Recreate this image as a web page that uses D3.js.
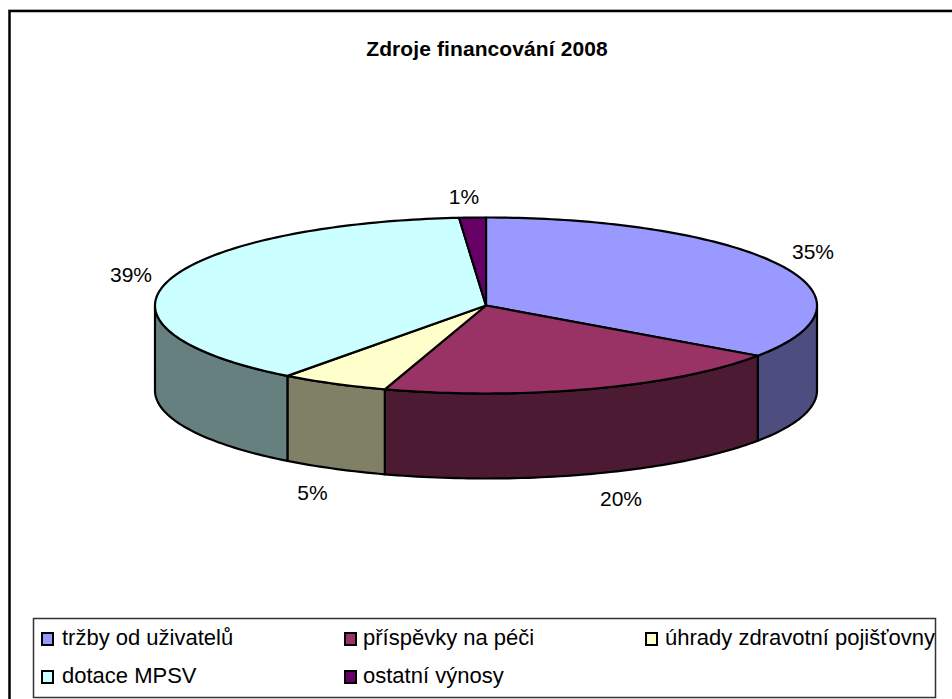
<!DOCTYPE html>
<html><head><meta charset="utf-8">
<script src="https://cdnjs.cloudflare.com/ajax/libs/d3/7.8.5/d3.min.js"></script>
<style>html,body{margin:0;padding:0;background:#fff;overflow:hidden}svg{display:block}text{font-family:"Liberation Sans",Arial,sans-serif;fill:#000}</style>
</head><body><div id="c"></div>
<script>
const chartTitle = "Zdroje financování 2008";
const categories = ["tržby od uživatelů","příspěvky na péči","úhrady zdravotní pojišťovny","dotace MPSV","ostatní výnosy"];
const values = [34.7,20.3,5.3,38.5,1.3];
const labels = ["35%","20%","5%","39%","1%"];
const topColors = ["#9999ff","#993366","#ffffcc","#ccffff","#660066"];
const sideColors = ["#4d4d80","#4d1a33","#808066","#668080","#330033"];

const W=952,H=699;
const svg=d3.select("#c").append("svg").attr("width",W).attr("height",H);
svg.append("rect").attr("x",0).attr("y",0).attr("width",W).attr("height",H).attr("fill","#fff");
svg.append("path").attr("d","M9.5,"+H+"V11H"+W).attr("fill","none").attr("stroke","#000").attr("stroke-width",2.5);
svg.append("path").attr("d","M8,9.5H"+W).attr("fill","none").attr("stroke","#aaa").attr("stroke-width",1);

svg.append("text").attr("x",487).attr("y",56).attr("text-anchor","middle").attr("font-size",21).attr("font-weight","bold").attr("letter-spacing",0.1).text(chartTitle);

const cx=486,cy=305.5,rx=331,ry=88,depth=85;
const xs=d3.scaleLinear().domain([-1,1]).range([cx-rx,cx+rx]);
const ys=d3.scaleLinear().domain([-1,1]).range([cy-ry,cy+ry]);
const pt=a=>[xs(Math.sin(a)),ys(-Math.cos(a))];
const pie=d3.pie().sort(null).value(d=>d);
const arcs=pie(values);

const line=d3.line();
function arcPts(a0,a1){const n=Math.max(2,Math.ceil((a1-a0)/0.02));return d3.range(n+1).map(i=>pt(a0+(a1-a0)*i/n));}

const g=svg.append("g").attr("stroke","#000").attr("stroke-width",2.2).attr("stroke-linejoin","round");
arcs.forEach((d,i)=>{
  const a0=Math.max(d.startAngle,Math.PI/2),a1=Math.min(d.endAngle,3*Math.PI/2);
  if(a1<=a0)return;
  const top=arcPts(a0,a1);
  const bot=top.slice().reverse().map(p=>[p[0],p[1]+depth]);
  g.append("path").attr("d",line(top.concat(bot))+"Z").attr("fill",sideColors[i]);
});
arcs.forEach((d,i)=>{
  const p=[[cx,cy]].concat(arcPts(d.startAngle,d.endAngle));
  g.append("path").attr("d",line(p)+"Z").attr("fill",topColors[i]);
});

const labelPos=[[813,259],[621,505.5],[312.5,499.5],[131,281.5],[464,203.5]];
labels.forEach((t,i)=>{
  svg.append("text").attr("x",labelPos[i][0]).attr("y",labelPos[i][1]).attr("text-anchor","middle").attr("font-size",21).text(t);
});

svg.append("rect").attr("x",33.5).attr("y",618.5).attr("width",902).attr("height",79).attr("fill","#fff").attr("stroke","#333").attr("stroke-width",1.5);
const legendX=[41,344,645,41,344],legendTextX=[62,363,665,62,363],legendY=[639,639,639,677,677];
categories.forEach((c,i)=>{
  svg.append("rect").attr("x",legendX[i]+1).attr("y",legendY[i]-6).attr("width",11).attr("height",12).attr("fill",topColors[i]).attr("stroke","#000").attr("stroke-width",2);
  svg.append("text").attr("x",legendTextX[i]).attr("y",legendY[i]).attr("dominant-baseline","middle").attr("font-size",22).text(c);
});
</script></body></html>
